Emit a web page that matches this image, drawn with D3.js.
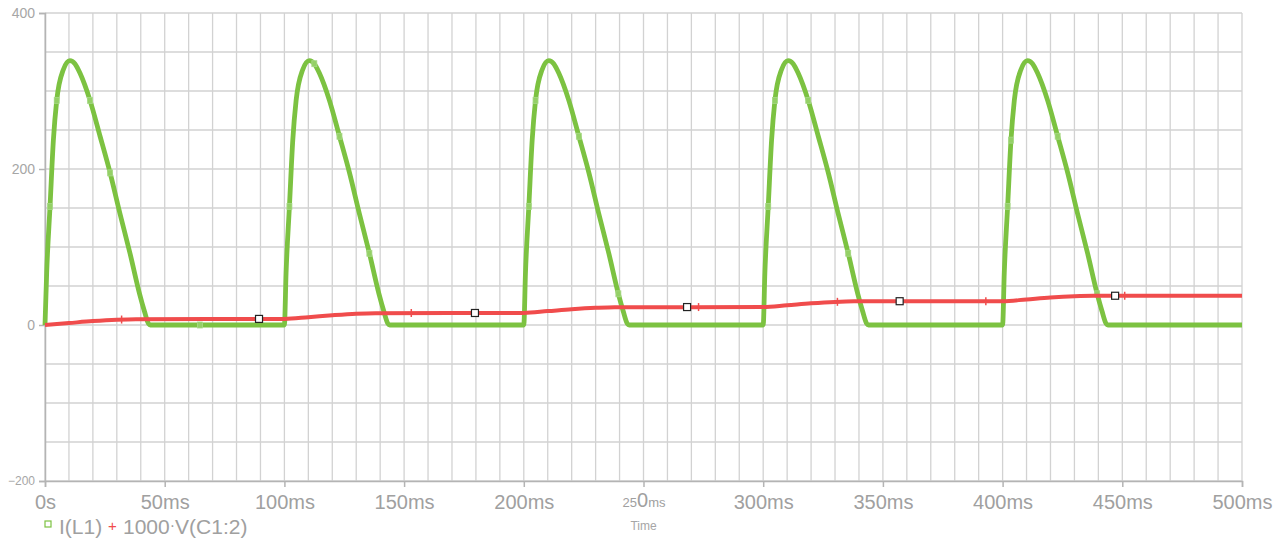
<!DOCTYPE html>
<html><head><meta charset="utf-8">
<script src="https://cdn.jsdelivr.net/npm/d3@7"></script>
<style>body{margin:0;background:#fff;}svg{display:block;font-family:"Liberation Sans",Arial,sans-serif;}</style>
</head><body><svg id="c" width="1280" height="540"></svg>
<script>
// I(L1) current trace: time (ms), value
const iTime = [0,0.7,2.1,3.5,4.9,7.6,10.4,12.5,14.6,18.8,23,27.2,31.3,35.5,39.5,41.5,43.2,44,
  100,100.7,102.1,103.5,104.9,107.6,110.4,112.5,114.6,118.8,123,127.2,131.3,135.5,139.5,141.5,143.2,144,
  200,200.7,202.1,203.5,204.9,207.6,210.4,212.5,214.6,218.8,223,227.2,231.3,235.5,239.5,241.5,243.2,244,
  300,300.7,302.1,303.5,304.9,307.6,310.4,312.5,314.6,318.8,323,327.2,331.3,335.5,339.5,341.5,343.2,344,
  400,400.7,402.1,403.5,404.9,407.6,410.4,412.5,414.6,418.8,423,427.2,431.3,435.5,439.5,441.5,443.2,444,500];
const iValue = [0,67,152,237,288,327,339,335,323,288,242,195,143,92,40,18,2,0,
  0,67,152,237,288,327,339,335,323,288,242,195,143,92,40,18,2,0,
  0,67,152,237,288,327,339,335,323,288,242,195,143,92,40,18,2,0,
  0,67,152,237,288,327,339,335,323,288,242,195,143,92,40,18,2,0,
  0,67,152,237,288,327,339,335,323,288,242,195,143,92,40,18,2,0,0];
// 1000*V(C1:2) trace
const vTime = [0,10,20,30,38,100,110,120,130,138,200,210,220,230,238,300,310,320,330,338,400,410,420,430,438,500];
const vValue = [0,2.5,5,6.8,7.5,7.8,10,12.5,14.5,15.2,15.5,17.8,20.2,22,22.8,23,25.3,27.8,29.6,30.3,30.5,32.8,35.2,36.8,37.4,37.5];
// trace symbols (placed on data points)
const iMarkT = [2.1,4.9,18.8,27.2,64.7,102.1,112.5,123,135.5,202.1,204.9,223,239.5,302.1,304.9,318.8,335.5,402.1,403.5,423,439.5];
const iMarkV = [152,288,288,195,0,152,335,242,92,152,288,242,40,152,288,288,92,152,237,242,40];
const vMarkT = [32,153,273,331,393,451];
const vMarkV = [7,15.4,23,29.7,30.5,37.5];
const boxT = [89.4,179.6,268.2,357,447];
const boxV = [7.8,15.4,23,30.5,37.5];
const yTicks = [-200,200,400,0];
const xTicks = [0,50,100,150,200,250,300,350,400,450,500];
const xTickLabels = ["0s","50ms","100ms","150ms","200ms","250ms","300ms","350ms","400ms","450ms","500ms"];

const svg = d3.select("#c");
const x = d3.scaleLinear().domain([0,500]).range([45,1242]);
const y = d3.scaleLinear().domain([-200,400]).range([481,13]);
const gridC = "#d2d2d2", axC = "#b4b4b4", txtC = "#a6a6a6";

// grid
svg.append("g").selectAll("line").data(d3.range(0,501,10)).join("line")
  .attr("x1",d=>x(d)).attr("x2",d=>x(d)).attr("y1",y(400)).attr("y2",y(-200))
  .attr("stroke",gridC).attr("stroke-width",1.3);
svg.append("g").selectAll("line").data(d3.range(-200,401,50)).join("line")
  .attr("x1",x(0)).attr("x2",x(500)).attr("y1",d=>y(d)).attr("y2",d=>y(d))
  .attr("stroke",gridC).attr("stroke-width",1.3);

// axes
const yAxis = svg.append("g").attr("transform",`translate(${x(0)},0)`)
  .call(d3.axisLeft(y).tickValues(yTicks).tickSize(6).tickPadding(4).tickFormat(d3.format("d")));
yAxis.select(".domain").attr("stroke",axC).attr("stroke-width",1.5);
yAxis.selectAll(".tick line").attr("stroke",axC).attr("stroke-width",1.5);
yAxis.selectAll(".tick text").attr("fill",txtC).attr("font-size",d=>d===-200?12:14)
  .attr("font-family","Liberation Sans,Arial,sans-serif");

const xAxis = svg.append("g").attr("transform",`translate(0,${y(-200)})`)
  .call(d3.axisBottom(x).tickValues(xTicks).tickSize(6).tickFormat(""));
xAxis.select(".domain").attr("stroke",axC).attr("stroke-width",1.5);
xAxis.selectAll(".tick line").attr("stroke",axC).attr("stroke-width",1.5);
xAxis.selectAll(".tick").each(function(d,i){
  const t = d3.select(this).append("text").attr("y",28).attr("fill","#a0a0a0")
    .attr("text-anchor","middle").attr("font-size",20).attr("font-family","Liberation Sans,Arial,sans-serif");
  const lab = xTickLabels[i];
  if (d===250) {
    t.attr("y",26);
    t.append("tspan").attr("font-size",13).text(lab.slice(0,2));
    t.append("tspan").attr("font-size",20).text(lab.slice(2,3));
    t.append("tspan").attr("font-size",13).text(lab.slice(3));
  } else t.text(lab);
});
svg.append("text").attr("x",x(250)).attr("y",530).attr("text-anchor","middle")
  .attr("font-size",12).attr("fill",txtC).text("Time");

// traces
const line = d3.line().x(d=>x(d[0])).y(d=>y(d[1])).curve(d3.curveMonotoneX);
svg.append("path").datum(iTime.map((t,i)=>[t,iValue[i]])).attr("d",line)
  .attr("fill","none").attr("stroke","#7cc241").attr("stroke-width",4.8).attr("stroke-linejoin","round");
svg.append("g").selectAll("rect").data(iMarkT.map((t,i)=>[t,iMarkV[i]])).join("rect")
  .attr("x",d=>x(d[0])-2.5).attr("y",d=>y(d[1])-3).attr("width",5).attr("height",6)
  .attr("fill","#94d066").attr("stroke","#a9d98a").attr("stroke-width",0.8);
svg.append("path").datum(vTime.map((t,i)=>[t,vValue[i]])).attr("d",line)
  .attr("fill","none").attr("stroke","#f04c4c").attr("stroke-width",4).attr("stroke-linejoin","round");
const vm = svg.append("g").selectAll("g").data(vMarkT.map((t,i)=>[t,vMarkV[i]])).join("g")
  .attr("transform",d=>`translate(${x(d[0])},${y(d[1])})`);
vm.append("line").attr("x1",0).attr("x2",0).attr("y1",-4).attr("y2",4).attr("stroke","#f04c4c").attr("stroke-width",1.5);
vm.append("line").attr("x1",-3).attr("x2",3).attr("y1",0).attr("y2",0).attr("stroke","#f04c4c").attr("stroke-width",1.5);
svg.append("g").selectAll("rect").data(boxT.map((t,i)=>[t,boxV[i]])).join("rect")
  .attr("x",d=>x(d[0])-3.5).attr("y",d=>y(d[1])-3.5).attr("width",7).attr("height",7)
  .attr("fill","#fff").attr("stroke","#222").attr("stroke-width",1.2);

// legend
svg.append("rect").attr("x",45).attr("y",521).attr("width",6).attr("height",6)
  .attr("fill","none").attr("stroke","#7cc241").attr("stroke-width",1.2);
svg.append("text").attr("x",59).attr("y",534).attr("font-size",21).attr("fill","#a0a0a0").text("I(L1)");
svg.append("text").attr("x",108).attr("y",531).attr("font-size",15).attr("fill","#f04c4c").text("+");
const lt = svg.append("text").attr("x",123).attr("y",534).attr("font-size",21).attr("fill","#a0a0a0");
lt.append("tspan").text("1000");
lt.append("tspan").attr("font-size",16).attr("dy",-3).text("·");
lt.append("tspan").attr("dy",3).text("V(C1:2)");
</script></body></html>
